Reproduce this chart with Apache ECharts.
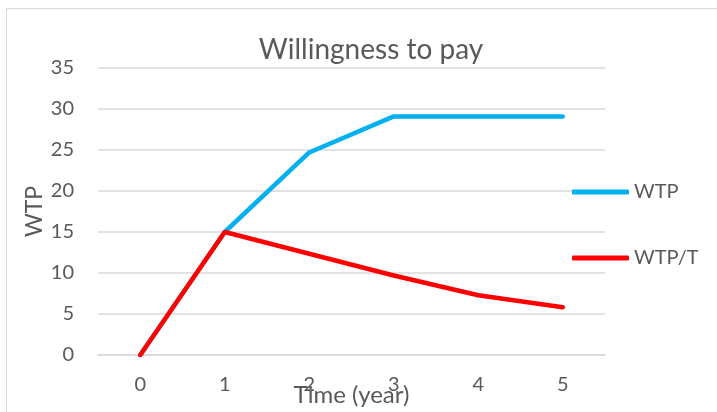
<!DOCTYPE html>
<html>
<head>
<meta charset="utf-8">
<script src="https://cdn.jsdelivr.net/npm/echarts@6/dist/echarts.min.js"></script>
<style>
  html, body { margin: 0; padding: 0; background: #fff; overflow: hidden; }
  #frame { position: absolute; left: 6px; top: 8px; width: 800px; height: 500px; border: 1px solid #d9d9d9; }
  #chart { position: absolute; left: 0; top: 0; width: 717px; height: 412px; }
</style>
</head>
<body>
<div id="frame"></div>
<div id="chart"></div>
<script>
  // values
  const years = ['0', '1', '2', '3', '4', '5'];
  const wtp = [0, 15, 24.7, 29.1, 29.1, 29.1];
  const wtpPerT = [0, 15, 12.35, 9.7, 7.28, 5.82];

  const font = 'Lato, "Open Sans", sans-serif';
  const grey = '#595959';

  const chart = echarts.init(document.getElementById('chart'));
  chart.setOption({
    animation: false,
    textStyle: { fontFamily: font },
    title: {
      text: 'Willingness to pay',
      left: 366,
      textAlign: 'center',
      top: 31,
      textStyle: { fontFamily: font, fontSize: 28, fontWeight: 'normal', color: grey }
    },
    grid: { left: 98, right: 112, top: 68, bottom: 57, containLabel: false, outerBoundsMode: 'none' },
    legend: {
      orient: 'vertical',
      left: 567,
      top: 177,
      itemGap: 46,
      itemWidth: 57,
      itemHeight: 5,
      icon: 'roundRect',
      textStyle: { fontFamily: font, fontSize: 20, color: grey },
      data: ['WTP', 'WTP/T']
    },
    xAxis: {
      type: 'category',
      data: years,
      name: 'Time (year)',
      nameLocation: 'middle',
      nameGap: 28,
      nameMoveOverlap: false,
      nameTextStyle: { fontFamily: font, fontSize: 24, color: grey },
      axisLine: { lineStyle: { color: '#d9d9d9', width: 1.5 } },
      axisTick: { length: 7, lineStyle: { color: '#d9d9d9', width: 1.5 } },
      axisLabel: { margin: 20, fontSize: 20, color: grey, fontFamily: font }
    },
    yAxis: {
      type: 'value',
      min: 0,
      max: 35,
      interval: 5,
      name: 'WTP',
      nameLocation: 'middle',
      nameGap: 52,
      nameMoveOverlap: false,
      nameTextStyle: { fontFamily: font, fontSize: 23, color: grey },
      axisLine: { show: false },
      axisTick: { show: false },
      axisLabel: { margin: 24, fontSize: 20, color: grey, fontFamily: font },
      splitLine: { lineStyle: { color: '#d9d9d9', width: 1.5 } }
    },
    series: [
      {
        name: 'WTP',
        type: 'line',
        data: wtp,
        symbol: 'none',
        color: '#00b0f0',
        lineStyle: { width: 4.5, cap: 'round', join: 'round' }
      },
      {
        name: 'WTP/T',
        type: 'line',
        data: wtpPerT,
        symbol: 'none',
        color: '#ff0000',
        lineStyle: { width: 4.5, cap: 'round', join: 'round' }
      }
    ]
  });
</script>
</body>
</html>
